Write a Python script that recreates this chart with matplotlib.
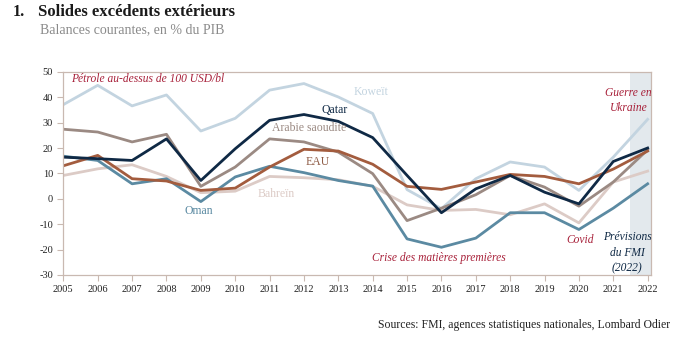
import matplotlib.pyplot as plt

years = list(range(2005, 2023))

koweit = [37.1, 44.7, 36.6, 40.9, 26.7, 31.7, 42.8, 45.4, 40.1, 33.6,
          3.6, -3.9, 7.9, 14.5, 12.5, 3.3, 16.4, 31.3]
qatar = [16.4, 15.8, 15.1, 23.6, 7.2, 19.7, 30.9, 33.2, 30.5, 24.1,
         9.2, -5.5, 3.9, 9.2, 2.6, -2.0, 14.7, 20.0]
arabie = [27.4, 26.3, 22.4, 25.4, 4.9, 12.5, 23.6, 22.4, 18.4, 9.9,
          -8.6, -3.7, 1.6, 9.2, 4.6, -2.9, 6.6, 19.3]
eau = [13.0, 17.1, 7.9, 7.0, 3.3, 4.2, 12.5, 19.5, 18.8, 13.6,
       4.9, 3.7, 6.6, 9.6, 8.8, 5.9, 11.7, 18.8]
oman = [16.8, 15.1, 5.9, 7.9, -1.1, 8.6, 12.8, 10.3, 7.2, 5.0,
        -15.8, -19.1, -15.5, -5.5, -5.5, -12.1, -3.7, 5.9]
bahrein = [9.2, 11.8, 13.4, 8.8, 2.4, 3.0, 8.8, 8.3, 7.5, 4.9,
           -2.4, -4.6, -4.2, -6.3, -2.0, -9.5, 6.6, 10.9]

c_kow = '#c3d4e0'
c_qat = '#0f2945'
c_ara = '#9b8a83'
c_eau = '#a35c3e'
c_oma = '#5b8aa2'
c_bah = '#dccbc6'
c_red = '#a8213a'
c_axis = '#c9b9b1'

plt.rcParams['font.family'] = ['Liberation Serif', 'DejaVu Serif']
plt.rcParams['axes.unicode_minus'] = False

fig = plt.figure(figsize=(6.74, 3.39), dpi=100)
ax = fig.add_axes([0.094, 0.189, 0.872, 0.599])

# forecast shading
ax.axvspan(2021.5, 2022.1, color='#e3e9ed', zorder=0, lw=0)

lw = 2.0
ax.plot(years, koweit, color=c_kow, lw=lw)
ax.plot(years, bahrein, color=c_bah, lw=lw)
ax.plot(years, oman, color=c_oma, lw=lw)
ax.plot(years, arabie, color=c_ara, lw=lw)
ax.plot(years, eau, color=c_eau, lw=lw)
ax.plot(years, qatar, color=c_qat, lw=lw)

ax.set_xlim(2005, 2022.1)
ax.set_ylim(-30, 50)
ax.set_xticks(years)
ax.set_yticks(range(-30, 51, 10))
ax.tick_params(axis='both', colors=c_axis, labelcolor='#222222',
               labelsize=7.5, length=4, width=0.8)
for s in ax.spines.values():
    s.set_color(c_axis)
    s.set_linewidth(0.9)

# series labels
fs = 8.5
ax.text(2013.96, 42.2, 'Koweït', color=c_kow, fontsize=fs, ha='center', va='center')
ax.text(2012.88, 35.0, 'Qatar', color=c_qat, fontsize=fs, ha='center', va='center')
ax.text(2012.15, 27.9, 'Arabie saoudite', color=c_ara, fontsize=fs, ha='center', va='center')
ax.text(2012.41, 14.4, 'EAU', color='#8e5b45', fontsize=fs, ha='center', va='center')
ax.text(2011.19, 1.7, 'Bahreïn', color=c_bah, fontsize=fs, ha='center', va='center')
ax.text(2008.95, -5.0, 'Oman', color=c_oma, fontsize=fs, ha='center', va='center')

# event annotations
fa = 8.3
ax.text(2005.22, 47.3, 'Pétrole au-dessus de 100 USD/bl', color=c_red,
        fontsize=fa, style='italic', ha='left', va='center')
ax.text(2021.44, 38.6, 'Guerre en\nUkraine', color=c_red, fontsize=fa,
        style='italic', ha='center', va='center', linespacing=1.35)
ax.text(2015.93, -23.3, 'Crise des matières premières', color=c_red,
        fontsize=fa, style='italic', ha='center', va='center')
ax.text(2020.04, -16.2, 'Covid', color=c_red, fontsize=fa, style='italic',
        ha='center', va='center')
ax.text(2021.41, -21.3, 'Prévisions\ndu FMI\n(2022)', color=c_qat, fontsize=fa,
        style='italic', ha='center', va='center', linespacing=1.4)

# titles
fig.text(13 / 674, 1 - 12 / 339, '1.', fontsize=11.5, fontweight='bold',
         color='#1a1a1a', va='center')
fig.text(38 / 674, 1 - 12 / 339, 'Solides excédents extérieurs', fontsize=12,
         fontweight='bold', color='#1a1a1a', va='center')
fig.text(40 / 674, 1 - 30 / 339, 'Balances courantes, en % du PIB', fontsize=10,
         color='#8a8a8a', va='center')
fig.text(670 / 674, 1 - 325 / 339,
         'Sources: FMI, agences statistiques nationales, Lombard Odier',
         fontsize=8.5, color='#222222', ha='right', va='center')

fig.savefig('out.png', dpi=100)
